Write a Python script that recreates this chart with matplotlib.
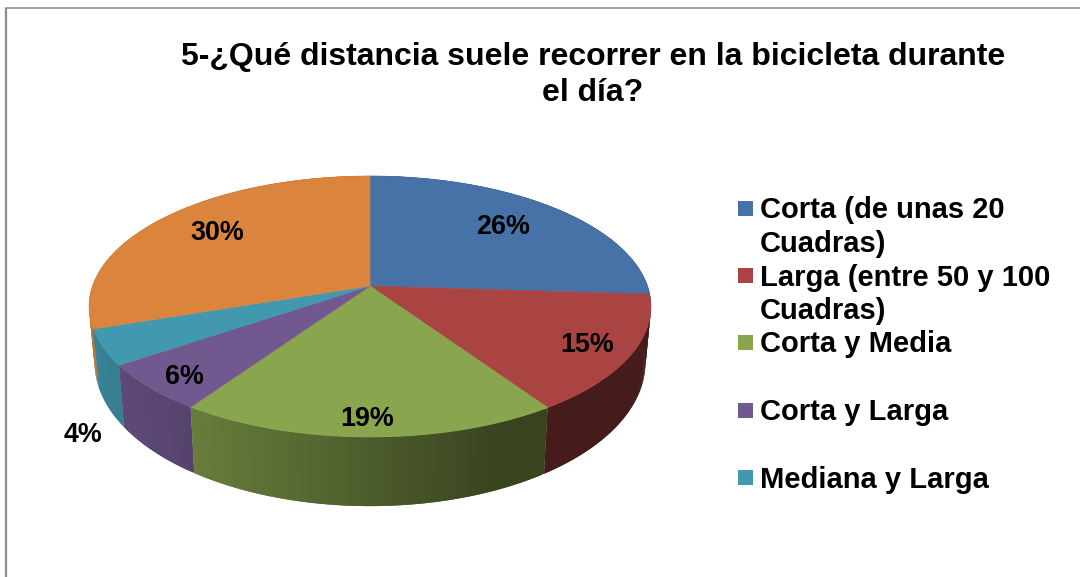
import numpy as np
import matplotlib
matplotlib.use("Agg")
import matplotlib.pyplot as plt
from matplotlib.patches import Polygon, Rectangle

plt.rcParams['font.family'] = ['Liberation Sans', 'DejaVu Sans']

title = "5-¿Qué distancia suele recorrer en la bicicleta durante\nel día?"
categories = ["Corta (de unas 20\nCuadras)", "Larga (entre 50 y 100\nCuadras)",
              "Corta y Media", "Corta y Larga", "Mediana y Larga", ""]
shares = [26.0, 14.6, 18.9, 5.9, 4.4, 30.2]
colors = ["#4672A7", "#A94442", "#89A54E", "#71588F", "#4198AF", "#DB843D"]

# layout of the perspective pie, in pixels of the 1080x577 canvas
CX, CY, B, A, K = 370.0, 286.0, 277.5, 127.3, 0.157
DEPTH_OFF, DEPTH_SCALE, RIM_X = 54.0, 1.10, 0.98


def top_rim(theta):
    u, v = np.sin(theta), np.cos(theta)
    w = 1 + K * v
    return CX + B * u / w, CY - A * v / w


def bottom_rim(theta):
    x, y = top_rim(theta)
    return CX + RIM_X * (x - CX), CY + DEPTH_OFF + DEPTH_SCALE * (y - CY)


def shade(x):
    return np.interp(x, [90, 189, 370, 500, 650], [0.86, 0.76, 0.56, 0.41, 0.41])


fig = plt.figure(figsize=(10.8, 5.77), dpi=100)
ax = fig.add_axes([0, 0, 1, 1])
ax.set_xlim(0, 1080)
ax.set_ylim(577, 0)
ax.axis("off")

# chart frame
ax.plot([6, 6], [577, 7.5], color="#8C8C8C", lw=1.6, solid_capstyle="butt", zorder=1)
ax.plot([5, 1080], [7.5, 7.5], color="#8C8C8C", lw=1.1, solid_capstyle="butt", zorder=1)

edges = 2 * np.pi * np.concatenate([[0], np.cumsum(shares)]) / sum(shares)

# side wall: slices back to front, each swept in overlapping strips so no seams show
order = sorted(range(len(colors)), key=lambda i: -np.cos((edges[i] + edges[i + 1]) / 2))
for i in order:
    n = max(int(shares[i] * 5), 6)
    t = np.linspace(edges[i], edges[i + 1], n + 1)
    base = np.array(matplotlib.colors.to_rgb(colors[i]))
    for j in range(n):
        seg = t[j:min(j + 3, n + 1)]
        xt, yt = top_rim(seg)
        xb, yb = bottom_rim(seg)
        f = float(shade(xt[:2].mean()))
        pts = np.column_stack([np.r_[xt, xb[::-1]], np.r_[yt, yb[::-1]]])
        ax.add_patch(Polygon(pts, closed=True, facecolor=base * f, edgecolor="none",
                             lw=0, zorder=2))

# top face
for i, col in enumerate(colors):
    t = np.linspace(edges[i], edges[i + 1], 120)
    x, y = top_rim(t)
    pts = np.column_stack([np.r_[CX, x], np.r_[CY, y]])
    ax.add_patch(Polygon(pts, closed=True, facecolor=col, edgecolor=col, lw=0.4, zorder=3))

# data labels
label_x = [503, 587, 367, 184, 83, 217]
label_y = [227, 345, 419, 377, 435, 233]
for v, lx, ly in zip(shares, label_x, label_y):
    ax.text(lx, ly, f"{round(v)}%", ha="center", va="center", fontsize=19.4,
            fontweight="bold", color="black", zorder=5)

# title
ax.text(593, 75, title, ha="center", va="center", fontsize=23, fontweight="bold",
        color="black", linespacing=1.22, zorder=5)

# legend
legend_y = [208.5, 275.5, 342.5, 410.5, 477.5]
for name, col, ly in zip(categories[:5], colors[:5], legend_y):
    ax.add_patch(Rectangle((738, ly - 7.5), 15, 15, facecolor=col, edgecolor="none", zorder=4))
    ax.text(760, ly + 10, name.split("\n")[0], ha="left", va="baseline", fontsize=21,
            fontweight="bold", color="black", zorder=5)
    if "\n" in name:
        ax.text(760, ly + 43.5, name.split("\n")[1], ha="left", va="baseline", fontsize=21,
                fontweight="bold", color="black", zorder=5)

fig.savefig("out.png", dpi=100, facecolor="white")
